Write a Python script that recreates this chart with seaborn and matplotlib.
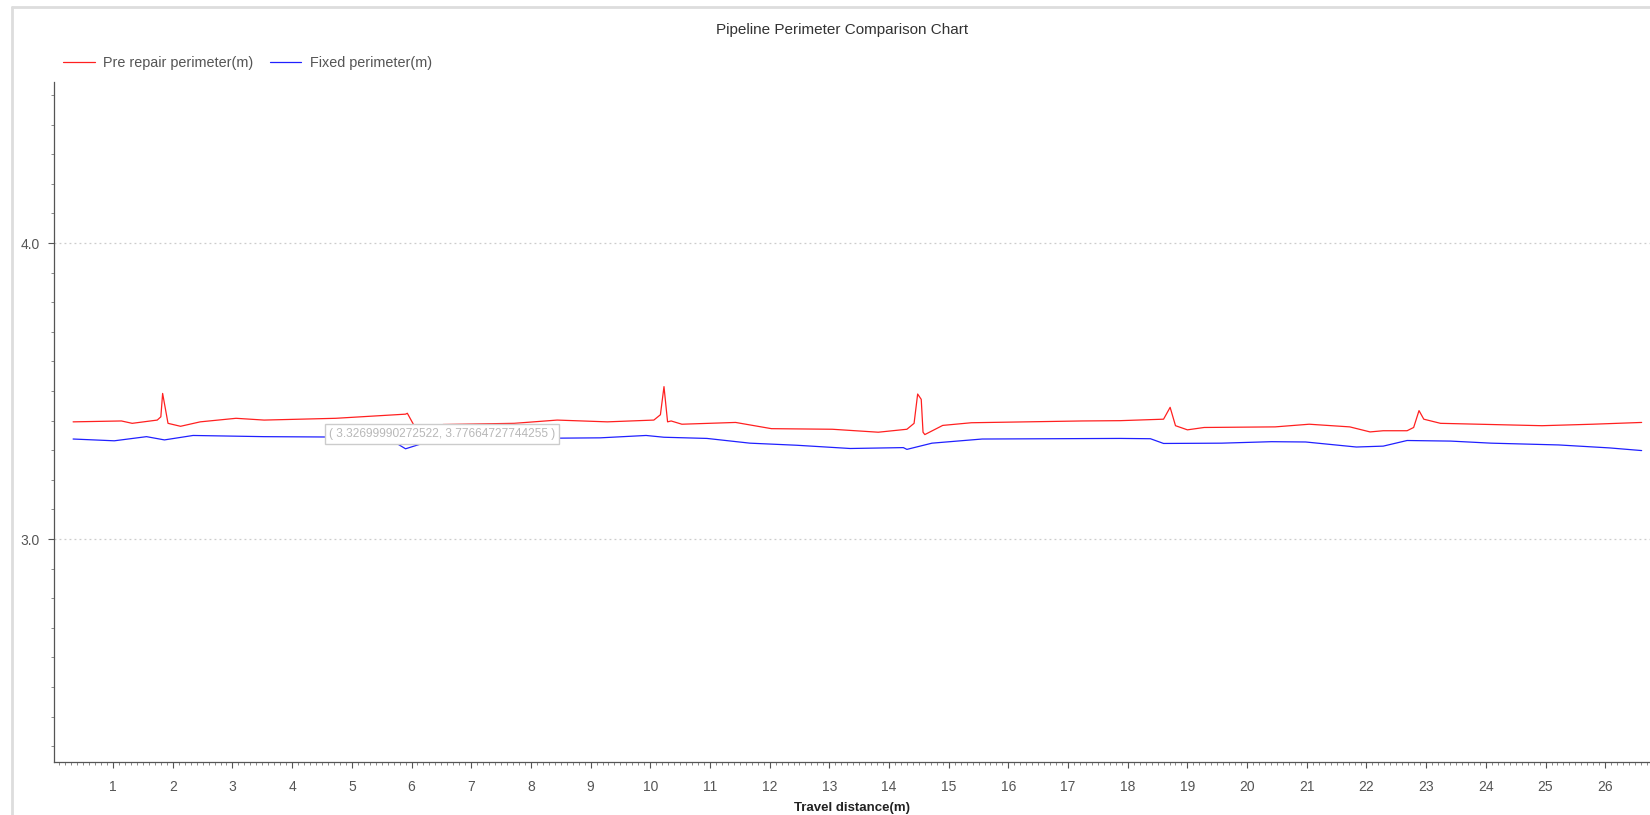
import numpy as np
import pandas as pd
import seaborn as sns
import matplotlib.pyplot as plt
from matplotlib.ticker import MultipleLocator
from matplotlib.lines import Line2D


# values
pre_dist = [0.33, 1.14, 1.32, 1.74, 1.80, 1.83, 1.92, 2.13, 2.46, 3.06, 3.53, 4.73,
            5.90, 5.93, 6.11, 6.29, 6.53, 7.72, 8.44, 9.28,
            10.06, 10.17, 10.23, 10.29, 10.35, 10.53, 11.43, 12.03, 13.05, 13.82,
            14.30, 14.42, 14.48, 14.54, 14.57, 14.60, 14.90, 15.38, 17.23, 17.87,
            18.60, 18.71, 18.80, 19.00, 19.28, 20.47, 21.04, 21.72, 22.06, 22.28,
            22.68, 22.79, 22.88, 22.96, 23.24, 24.94, 25.79, 26.61]
pre_perim = [3.396, 3.399, 3.391, 3.402, 3.413, 3.492, 3.391, 3.381, 3.396, 3.408, 3.402, 3.408,
             3.422, 3.425, 3.359, 3.361, 3.387, 3.391, 3.402, 3.396,
             3.402, 3.420, 3.515, 3.396, 3.399, 3.388, 3.394, 3.373, 3.371, 3.361,
             3.371, 3.391, 3.490, 3.472, 3.361, 3.353, 3.384, 3.393, 3.399, 3.400,
             3.405, 3.445, 3.383, 3.369, 3.377, 3.379, 3.388, 3.379, 3.362, 3.366,
             3.366, 3.377, 3.434, 3.405, 3.391, 3.383, 3.388, 3.394]

fix_dist = [0.33, 1.02, 1.56, 1.86, 2.34, 3.53, 5.33, 5.63, 5.90, 6.23, 6.53,
            9.16, 9.93, 10.23, 10.95, 11.67, 12.45, 13.35, 14.24, 14.30, 14.72,
            15.56, 17.87, 18.38, 18.60, 19.57, 20.41, 20.98, 21.83, 22.28, 22.68,
            23.41, 24.09, 25.22, 26.07, 26.61]
fix_perim = [3.338, 3.332, 3.346, 3.335, 3.350, 3.346, 3.344, 3.338, 3.305, 3.326, 3.338,
             3.342, 3.350, 3.344, 3.340, 3.324, 3.317, 3.306, 3.309, 3.303, 3.324,
             3.338, 3.340, 3.339, 3.323, 3.324, 3.329, 3.328, 3.311, 3.314, 3.333,
             3.331, 3.324, 3.318, 3.308, 3.299]

x_ticks = list(range(1, 27))
y_ticks = [3.0, 4.0]

pre_df = pd.DataFrame({'dist': pre_dist, 'perim': pre_perim})
fix_df = pd.DataFrame({'dist': fix_dist, 'perim': fix_perim})


sns.set_style('white')
plt.rcParams['font.family'] = ['Liberation Sans', 'DejaVu Sans']

W, H = 1650, 815
fig = plt.figure(figsize=(W / 100, H / 100), dpi=100)
ax = fig.add_axes([54 / W, 1 - 762 / H, (W - 54) / W, (762 - 82) / H])

sns.lineplot(data=pre_df, x='dist', y='perim', ax=ax, color='#ff2020',
             linewidth=0.9, estimator=None, sort=False)
sns.lineplot(data=fix_df, x='dist', y='perim', ax=ax, color='#2020ff',
             linewidth=0.9, estimator=None, sort=False)

ax.set_xlim(0.01, 26.75)
ax.set_ylim(2.247, 4.544)

ax.set_xticks(x_ticks)
ax.set_xticklabels([str(t) for t in x_ticks])
ax.xaxis.set_minor_locator(MultipleLocator(0.1))
ax.set_yticks(y_ticks)
ax.set_yticklabels(['3.0', '4.0'])
ax.yaxis.set_minor_locator(MultipleLocator(0.1))

ax.tick_params(axis='both', which='both', bottom=True, left=True, top=False, right=False)
ax.tick_params(axis='both', which='major', direction='out', length=4, width=0.8,
               color='#555555', labelcolor='#555555', labelsize=10, pad=6)
ax.tick_params(axis='both', which='minor', direction='out', length=2.5, width=0.6,
               color='#777777')
ax.tick_params(axis='x', which='major', pad=9)

for side in ['top', 'right']:
    ax.spines[side].set_visible(False)
for side in ['left', 'bottom']:
    ax.spines[side].set_color('#555555')
    ax.spines[side].set_linewidth(0.9)

ax.yaxis.grid(True, which='major', linestyle=(0, (1.5, 2.5)), color='#cccccc', linewidth=0.9)
ax.xaxis.grid(False)

ax.set_xlabel('Travel distance(m)', fontsize=9.5, fontweight='bold', color='#222222',
              labelpad=6)
ax.set_ylabel('')

# tooltip left on the original screenshot
ax.text(6.51, 3.355, '( 3.32699990272522, 3.77664727744255 )', ha='center', va='center',
        fontsize=8.6, color='#b8b8b8',
        bbox=dict(boxstyle='square,pad=0.35', facecolor='white', edgecolor='#cccccc', linewidth=1))

fig.text(842 / W, 1 - 30 / H, 'Pipeline Perimeter Comparison Chart', ha='center', va='center',
         fontsize=11, color='#333333')

handles = [Line2D([], [], color='#ff2020', linewidth=0.9),
           Line2D([], [], color='#2020ff', linewidth=0.9)]
fig.legend(handles, ['Pre repair perimeter(m)', 'Fixed perimeter(m)'], loc='center left',
           bbox_to_anchor=(50 / W, 1 - 63 / H), ncol=2, frameon=False, fontsize=10.4,
           handlelength=2.2, handletextpad=0.6, columnspacing=1.1, labelcolor='#555555')

# light frame of the screenshot
fig.add_artist(Line2D([12 / W, 12 / W], [0, 1 - 7 / H], transform=fig.transFigure,
                      color='#dddddd', linewidth=2))
fig.add_artist(Line2D([12 / W, 1], [1 - 7 / H, 1 - 7 / H], transform=fig.transFigure,
                      color='#dddddd', linewidth=2))

fig.savefig('out.png', dpi=100)
